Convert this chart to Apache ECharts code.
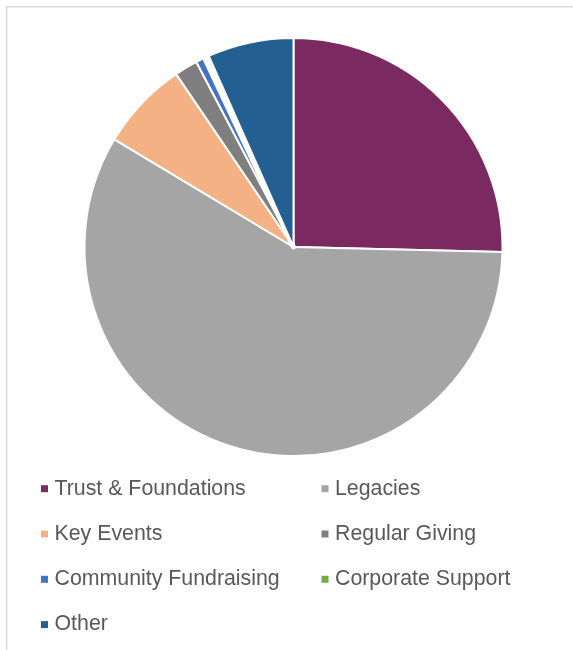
<!DOCTYPE html>
<html>
<head>
<meta charset="utf-8">
<title>Income by source</title>
<script src="https://cdn.jsdelivr.net/npm/echarts@6/dist/echarts.min.js"></script>
<style>
  html, body { margin: 0; padding: 0; background: #ffffff; }
  #chart { width: 573px; height: 650px; }
</style>
</head>
<body>
<div id="chart"></div>
<script>
// Income sources and their share of total income (%)
const categories = [
  'Trust & Foundations',
  'Legacies',
  'Key Events',
  'Regular Giving',
  'Community Fundraising',
  'Corporate Support',
  'Other'
];
const shares = [25.4, 58.3, 6.9, 1.8, 0.7, 0.35, 6.65];

// Legend layout: two columns, filled row by row
const legendLeftColumn = ['Trust & Foundations', 'Key Events', 'Community Fundraising', 'Other'];
const legendRightColumn = ['Legacies', 'Regular Giving', 'Corporate Support'];

const palette = ['#7b2a61', '#a5a5a5', '#f4b183', '#7f7f7f', '#4472c4', '#70ad47', '#245f91'];

const chart = echarts.init(document.getElementById('chart'), null, { renderer: 'canvas' });

const pieData = categories.map((name, i) => {
  const item = { name: name, value: shares[i], itemStyle: { color: palette[i] } };
  // the thin Corporate Support wedge is hidden under its separating border
  if (name === 'Corporate Support') item.itemStyle.borderWidth = 5;
  return item;
});

const legendText = {
  fontFamily: 'Liberation Sans, Arial, sans-serif',
  fontSize: 21.33,
  color: '#595959',
  lineHeight: 22,
  padding: [0, 0, 0, 1.5]
};

function makeLegend(names, left) {
  return {
    orient: 'vertical',
    left: left,
    top: 477.7,
    padding: 0,
    itemGap: 23.3,
    itemWidth: 7,
    itemHeight: 7,
    icon: 'rect',
    selectedMode: false,
    itemStyle: { borderWidth: 0 },
    textStyle: legendText,
    data: names
  };
}

chart.setOption({
  animation: false,
  backgroundColor: '#ffffff',
  graphic: [{
    type: 'rect',
    shape: { x: 6.6, y: 6.8, width: 700, height: 800 },
    style: { fill: 'none', stroke: '#d9d9d9', lineWidth: 1.5 },
    silent: true,
    z: -10
  }],
  legend: [
    makeLegend(legendLeftColumn, 41),
    makeLegend(legendRightColumn, 321.5)
  ],
  series: [{
    type: 'pie',
    center: [293.5, 247],
    radius: [0, 209],
    startAngle: 90,
    clockwise: true,
    avoidLabelOverlap: false,
    label: { show: false },
    labelLine: { show: false },
    emphasis: { disabled: true },
    itemStyle: { borderColor: '#ffffff', borderWidth: 2 },
    data: pieData
  }]
});
</script>
</body>
</html>
